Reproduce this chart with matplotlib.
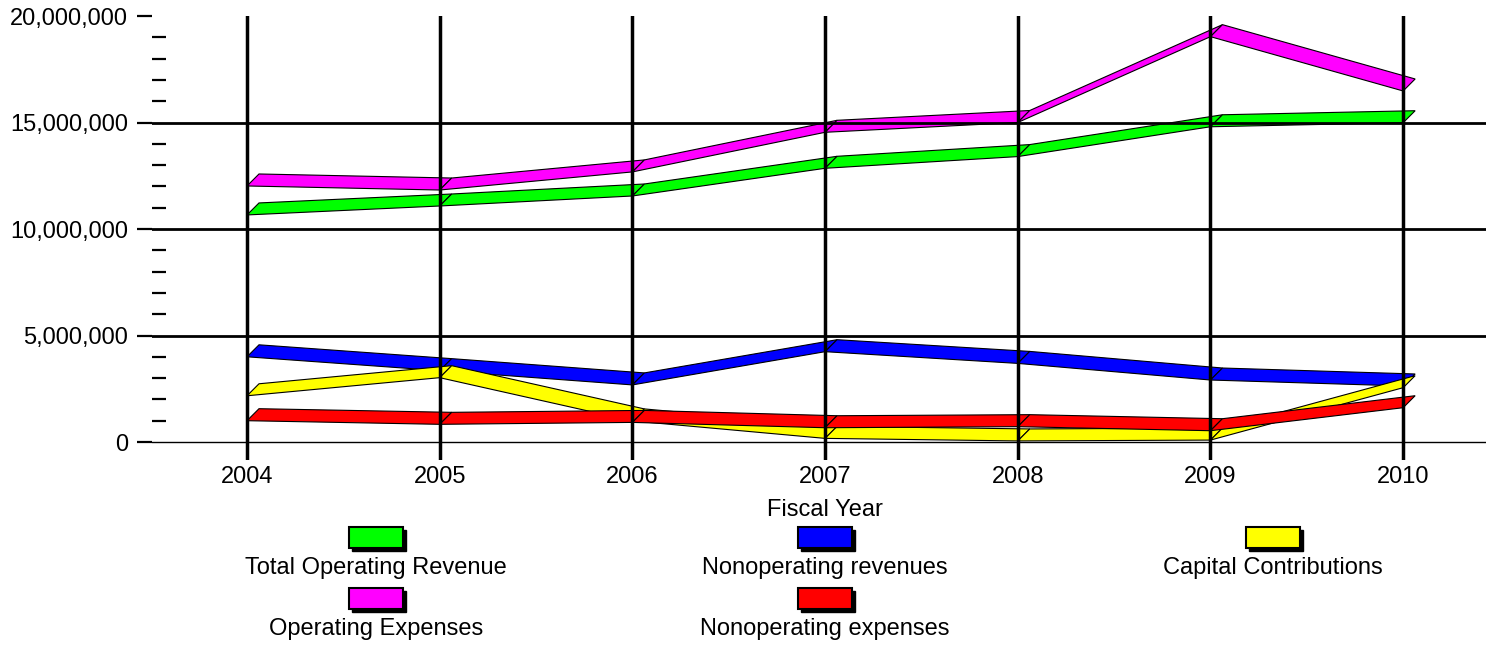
import matplotlib.pyplot as plt
from matplotlib.patches import Polygon, Rectangle
from matplotlib.ticker import MultipleLocator, FuncFormatter

plt.rcParams['font.family'] = ['Liberation Sans', 'DejaVu Sans']

years = [2004, 2005, 2006, 2007, 2008, 2009, 2010]

# valores em milhoes
total_operating_revenue = [10.66, 11.08, 11.55, 12.85, 13.40, 14.80, 14.99]
nonoperating_revenues = [4.00, 3.35, 2.68, 4.24, 3.69, 2.91, 2.63]
capital_contributions = [2.17, 3.02, 0.99, 0.17, 0.05, 0.09, 2.55]
operating_expenses = [12.02, 11.83, 12.68, 14.54, 15.00, 19.03, 16.48]
nonoperating_expenses = [1.00, 0.83, 0.92, 0.67, 0.72, 0.53, 1.61]

series_labels = ['Total Operating Revenue', 'Nonoperating revenues', 'Capital Contributions',
                 'Operating Expenses', 'Nonoperating expenses']
series_values = [total_operating_revenue, nonoperating_revenues, capital_contributions,
                 operating_expenses, nonoperating_expenses]
series_colors = ['#00ff00', '#0000ff', '#ffff00', '#ff00ff', '#ff0000']

W, H = 1486, 645
fs = 17
fig = plt.figure(figsize=(W / 100, H / 100), dpi=100)
ax = fig.add_axes([152 / W, 1 - 460 / H, 1 - 152 / W, (460 - 16) / H])

ax.set_xlim(2003.507, 2010.43)
ax.set_ylim(-0.845e6, 20e6)

# deslocamento 3D da fita (12 px para direita e para cima)
x0, x1 = ax.get_xlim()
y0, y1 = ax.get_ylim()
dx = 12 * (x1 - x0) / (W - 152)
dy = 12 * (y1 - y0) / (460 - 16)

for vals, cor in zip(series_values, series_colors):
    ys = [v * 1e6 for v in vals]
    for i in range(len(years) - 1):
        pts = [(years[i], ys[i]), (years[i + 1], ys[i + 1]),
               (years[i + 1] + dx, ys[i + 1] + dy), (years[i] + dx, ys[i] + dy)]
        ax.add_patch(Polygon(pts, closed=True, facecolor=cor, edgecolor='black',
                             linewidth=0.8, zorder=1))

for v in [5e6, 10e6, 15e6]:
    ax.axhline(v, color='black', linewidth=2, zorder=3)
ax.axhline(0, color='black', linewidth=1, zorder=3)

ax.set_xticks(years)
ax.grid(axis='x', color='black', linewidth=2.5)
ax.set_axisbelow(False)

ax.yaxis.set_major_locator(MultipleLocator(5e6))
ax.yaxis.set_minor_locator(MultipleLocator(1e6))
ax.yaxis.set_major_formatter(FuncFormatter(lambda v, p: f'{v:,.0f}'))
ax.tick_params(axis='y', which='major', direction='out', length=10.8, width=1.6,
               pad=6.5, labelsize=fs)
ax.tick_params(axis='y', which='minor', direction='in', length=9.8, width=1.6)
ax.tick_params(axis='x', length=0, pad=4, labelsize=fs)
for s in ax.spines.values():
    s.set_visible(False)

ax.set_xlabel('Fiscal Year', fontsize=fs)
ax.xaxis.set_label_coords((825 - 152) / (W - 152), -0.087)

# legenda feita a mao
leg_x = [376, 825, 1273, 376, 825]
leg_y = [537, 537, 537, 598, 598]
for lab, cor, cx, cy in zip(series_labels, series_colors, leg_x, leg_y):
    sw, sh = 54, 21
    fig.add_artist(Rectangle(((cx - sw / 2 + 3) / W, 1 - (cy + sh / 2 + 3) / H), sw / W, sh / H,
                             transform=fig.transFigure, facecolor='black', edgecolor='black'))
    fig.add_artist(Rectangle(((cx - sw / 2) / W, 1 - (cy + sh / 2) / H), sw / W, sh / H,
                             transform=fig.transFigure, facecolor=cor, edgecolor='black',
                             linewidth=1.5))
    fig.text(cx / W, 1 - (cy + 31) / H, lab, fontsize=fs, ha='center', va='center')

fig.savefig('out.png', dpi=100)
